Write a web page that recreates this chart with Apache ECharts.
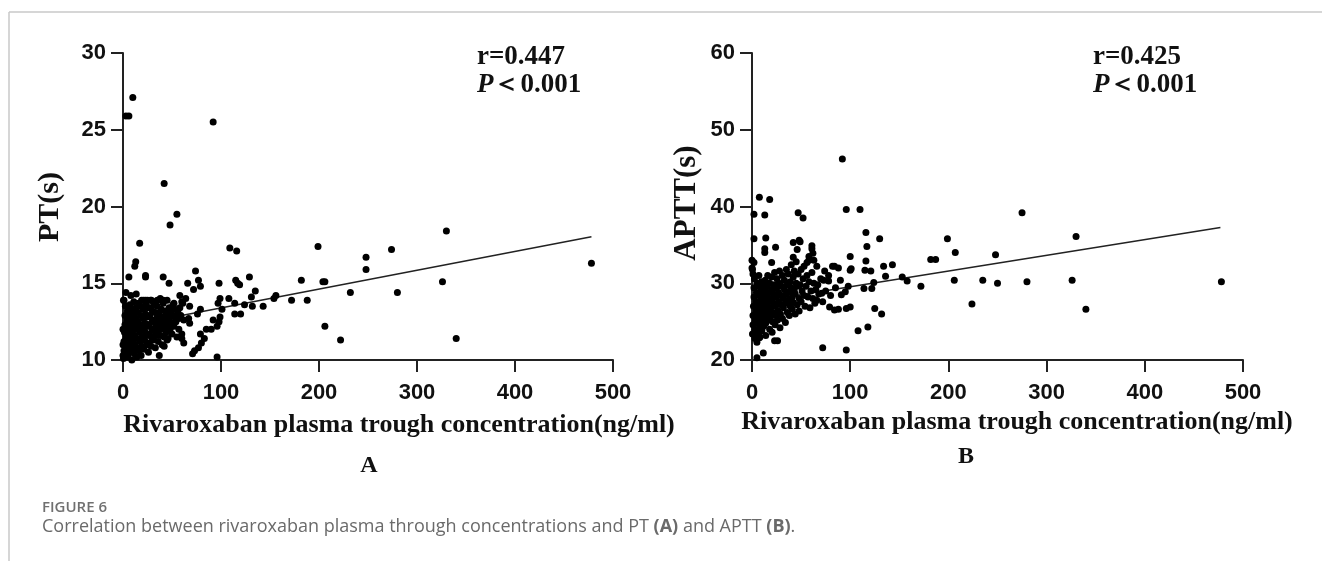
<!DOCTYPE html>
<html>
<head>
<meta charset="utf-8">
<script src="https://cdn.jsdelivr.net/npm/echarts/dist/echarts.min.js"></script>
<style>
  html, body { margin: 0; padding: 0; background: #fff; }
  #main { width: 1322px; height: 561px; }
</style>
</head>
<body>
<div id="main"></div>
<script>
var myChart = echarts.init(document.getElementById('main'));

// panel A: trough concentration (ng/ml) vs PT (s)
var ptPoints = [
  [10,27.1],[3,25.9],[6,25.9],[92,25.5],[42,21.5],[55,19.5],[48,18.8],[17,17.6],[109,17.3],[116,17.1],[199,17.4],
  [13,16.4],[12,16.1],[6,15.4],[23,15.5],[23,15.4],[41,15.4],[47,15.0],[74,15.8],[77,15.2],[79,14.8],[66,15.0],
  [72,14.6],[98,15.0],[115,15.2],[119,14.9],[117,15.0],[129,15.4],[182,15.2],[206,15.1],[135,14.5],[131,14.1],
  [156,14.2],[154,14.0],[172,13.9],[188,13.9],[143,13.5],[132,13.5],[124,13.6],[114,13.0],[120,13.0],[99,14.0],
  [97,13.7],[101,13.3],[108,14.0],[114,13.7],[206,12.2],[96,10.2],[90,12.0],[96,12.2],[98,12.5],[99,12.8],
  [92,12.6],[85,12.0],[79,11.7],[83,11.4],[80,11.1],[77,10.8],[73,10.6],[71,10.4],[60,11.4],[62,11.1],[60,11.7],
  [57,12.0],[67,12.7],[68,12.4],[76,13.0],[79,13.3],[68,13.5],[64,14.0],[61,13.7],[58,14.2],[52,13.7],[37,10.3],
  [42,10.9],[45,11.3],
  [232,14.4],[248,16.7],[248,15.9],[274,17.2],[280,14.4],[204,15.1],[222,11.3],[326,15.1],[330,18.4],[340,11.4],[478,16.3],
  [0.5,10.1],[1,10.6],[1,11.2],[1.5,11.8],[2,12.3],[2,12.9],[2.5,13.5],[1,13.9],[3,10.4],[3,11.0],[3.5,11.5],
  [4,12.0],[4,12.6],[4.5,13.2],[5,10.2],[5,10.8],[5.5,11.4],[6,11.9],[6,12.5],[6.5,13.0],[7,13.6],[7,10.5],
  [7.5,11.1],[8,11.7],[8,12.2],[8.5,12.8],[9,13.3],[9,10.0],[9.5,10.7],[10,11.3],[10,11.9],[10.5,12.4],[11,13.0],
  [11,13.8],[11.5,10.4],[12,11.0],[12,11.6],[12.5,12.1],[13,12.7],[13,13.4],[13.5,14.3],[14,10.2],[14,10.8],
  [14.5,11.4],[15,12.0],[15,12.5],[15.5,13.1],[16,13.7],[16.5,10.6],[17,11.2],[17,11.8],[17.5,12.3],[18,12.9],
  [18,13.5],[18.5,10.3],[19,10.9],[19.5,11.5],[20,12.1],[20,12.7],[20.5,13.3],[21,13.9],[21.5,10.7],[22,11.3],
  [22,11.9],[22.5,12.4],[23,13.0],[23.5,13.6],[24,11.0],[24,11.6],[24.5,12.2],[25,12.8],[25.5,13.4],[26,10.5],
  [26.5,11.1],[27,11.7],[27,12.3],[27.5,12.9],[28,13.9],[28.5,10.9],[29,11.5],[29.5,12.0],[30,12.6],[30,13.2],
  [31,11.3],[31,13.8],[32,11.9],[32,12.5],[33,13.1],[33,10.8],[34,11.6],[34,12.2],[35,12.8],[35,13.5],[36,11.2],
  [36,11.9],[37,12.4],[37,13.0],[38,11.6],[38,12.6],[39,13.3],[39,12.0],[40,11.0],[40,12.3],[41,12.8],[41,13.7],
  [42,11.5],[42,12.1],[43,12.6],[43,13.2],[44,11.8],[44,12.4],[45,13.0],[45,13.9],[46,12.2],[46,11.4],[47,12.7],
  [47,13.4],[48,12.0],[48,12.5],[49,13.1],[50,11.7],[50,12.4],[51,12.9],[51,13.6],[52,12.2],[53,12.8],[53,13.3],
  [54,12.5],[55,11.5],[56,13.1],[57,12.7],[58,13.4],[59,12.9],[60,13.8],[62,12.6],[0.5,13.9],[0,12.0],[0,11.0],
  [0,10.3],[3,14.4],[8,14.2],[19,13.9],[25,13.9],[28,13.4],[32,13.6],[38,14.0],[23,13.9],[29,13.9],[35,13.9],[41,13.9]
];
var ptFitX = [0, 478];
var ptFitY = [12.17, 18.03];

// panel B: trough concentration (ng/ml) vs APTT (s)
var apttPoints = [
  [92,46.2],[7.5,41.2],[18,40.9],[2,39.0],[13,38.9],[96,39.6],[110,39.6],[47,39.2],[52,38.5],[2,35.8],[14,35.9],
  [24,34.7],[13,34.5],[13,34.0],[20,32.7],[2,32.7],[100,33.5],[116,36.6],[117,34.8],[130,35.8],[116,32.9],
  [134,32.2],[143,32.4],[136,30.9],[124,30.1],[121,31.6],[115,31.7],[153,30.8],[158,30.3],[172,29.6],[182,33.1],
  [187,33.1],[199,35.8],[207,34.0],[206,30.4],[235,30.4],[224,27.3],[114,29.3],[122,29.3],[125,26.7],[132,26.0],
  [108,23.8],[118,24.3],[72,21.6],[96,21.3],[96,26.7],[100,26.9],[84,26.5],[79,26.9],[91,28.5],[95,28.9],[98,29.6],
  [100,31.7],[101,31.9],[88,32.0],[84,32.2],[82,32.2],[74,31.6],[73,30.4],[78,30.3],[67,29.8],[71,28.7],[66,27.8],
  [66,32.2],[63,33.0],[62,33.9],[61,34.5],[61,34.9],[58,33.5],[58,33.0],[56,32.7],[49,35.4],[48,35.6],[42,35.3],
  [46,34.4],[42,33.4],[23,22.5],[26,22.5],[11.5,20.9],[5,20.3],[8,23.0],[5,22.3],
  [248,33.7],[250,30.0],[275,39.2],[280,30.2],[326,30.4],[330,36.1],[340,26.6],[478,30.2],
  [0.5,23.4],[1,24.6],[1,25.8],[1.5,27.0],[2,28.2],[2,29.4],[2.5,30.6],[1,31.2],[3,22.8],[3,24.0],[3.5,25.2],
  [4,26.4],[4,27.6],[4.5,28.8],[5,30.0],[5,23.5],[5.5,24.8],[6,26.0],[6,27.2],[6.5,28.4],[7,29.6],[7,31.0],
  [7.5,22.9],[8,24.2],[8,25.4],[8.5,26.6],[9,27.8],[9,29.0],[9.5,30.2],[10,23.8],[10,25.0],[10.5,26.2],[11,27.4],
  [11,28.6],[11.5,29.8],[12,24.4],[12,25.6],[12.5,26.8],[13,28.0],[13,29.2],[13.5,30.4],[14,23.2],[14,24.8],
  [14.5,26.0],[15,27.2],[15,28.4],[15.5,29.6],[16,31.0],[16.5,25.2],[17,26.4],[17,27.6],[17.5,28.8],[18,30.0],
  [18,24.0],[18.5,25.6],[19,26.8],[19.5,28.0],[20,29.2],[20,30.8],[20.5,23.6],[21,25.0],[21.5,26.2],[22,27.4],
  [22,28.6],[22.5,29.8],[23,31.4],[23.5,24.6],[24,25.8],[24,27.0],[24.5,28.2],[25,29.4],[25.5,30.6],[26,25.2],
  [26.5,26.4],[27,27.6],[27,28.8],[27.5,30.0],[28,31.6],[28.5,24.2],[29,26.0],[29.5,27.2],[30,28.4],[30,29.6],
  [31,31.0],[31,25.4],[32,26.8],[32,28.0],[33,29.2],[33,30.4],[34,27.4],[34,24.9],[35,28.6],[35,31.8],[36,26.2],
  [36,29.8],[37,27.8],[37,31.2],[38,25.8],[38,28.9],[39,30.2],[39,27.0],[40,29.4],[40,32.4],[41,26.6],[41,28.2],
  [42,30.8],[42,27.5],[43,29.0],[43,31.6],[44,26.0],[44,28.6],[45,30.0],[45,32.8],[46,27.2],[46,29.6],[47,31.2],
  [48,28.0],[48,26.4],[49,29.8],[50,31.8],[50,27.6],[51,29.0],[52,30.6],[53,28.4],[53,32.2],[54,27.0],[55,29.6],
  [56,31.0],[57,28.2],[58,30.2],[59,26.8],[60,29.0],[61,31.4],[62,28.0],[63,30.0],[64,27.4],[65,29.2],[68,28.6],
  [70,30.6],[72,27.6],[75,29.0],[78,31.0],[80,28.4],[85,29.4],[88,26.6],[90,30.4],[0,33.0],[0,32.0],[0.5,31.8]
];
var apttFitX = [0, 477];
var apttFitY = [27.49, 37.25];

var xTicks = [0, 100, 200, 300, 400, 500];
var ptTicks = [10, 15, 20, 25, 30];
var apttTicks = [20, 30, 40, 50, 60];

var xName = 'Rivaroxaban plasma trough concentration(ng/ml)';
var caption = 'Correlation between rivaroxaban plasma through concentrations and PT ';

function pairs(xs, ys) {
  return xs.map(function (v, i) { return [v, ys[i]]; });
}

var axisLine = { show: true, lineStyle: { color: '#222', width: 2 } };
var axisTick = { show: true, length: 12, lineStyle: { color: '#222', width: 2 } };
var tickLabel = { fontFamily: 'Liberation Sans, Arial', fontWeight: 'bold', fontSize: 22, color: '#111' };

function xAxis(idx) {
  return {
    gridIndex: idx, type: 'value', min: xTicks[0], max: xTicks[xTicks.length - 1], interval: 100,
    axisLine: axisLine, axisTick: axisTick, splitLine: { show: false },
    axisLabel: Object.assign({ margin: 22 }, tickLabel)
  };
}
function yAxis(idx, ticks) {
  return {
    gridIndex: idx, type: 'value', min: ticks[0], max: ticks[ticks.length - 1], interval: ticks[1] - ticks[0],
    axisLine: axisLine, axisTick: axisTick, splitLine: { show: false },
    axisLabel: Object.assign({ margin: 17 }, tickLabel)
  };
}

var serif = 'bold 26px "Liberation Serif", "Times New Roman", serif';

function txt(x, y, text, font, align, extra) {
  var s = { text: text, font: font, fill: '#111', textAlign: align || 'center', textVerticalAlign: 'middle' };
  if (extra) Object.assign(s, extra);
  return { type: 'text', x: x, y: y, style: s, z: 10 };
}

var pRich = { i: { fontStyle: 'italic', fontWeight: 'bold', fontSize: 27, fontFamily: 'Liberation Serif', fill: '#111' },
              n: { fontWeight: 'bold', fontSize: 27, fontFamily: 'Liberation Serif', fill: '#111' } };

var option = {
  animation: false,
  backgroundColor: '#fff',
  grid: [
    { left: 123, top: 53, width: 490, height: 307 },
    { left: 752, top: 53, width: 491, height: 307 }
  ],
  xAxis: [xAxis(0), xAxis(1)],
  yAxis: [yAxis(0, ptTicks), yAxis(1, apttTicks)],
  series: [
    { type: 'scatter', xAxisIndex: 0, yAxisIndex: 0, data: ptPoints, symbolSize: 7,
      itemStyle: { color: '#000', opacity: 1 } },
    { type: 'line', xAxisIndex: 0, yAxisIndex: 0, data: pairs(ptFitX, ptFitY), symbol: 'none',
      lineStyle: { color: '#222', width: 1.5 }, z: 1 },
    { type: 'scatter', xAxisIndex: 1, yAxisIndex: 1, data: apttPoints, symbolSize: 7,
      itemStyle: { color: '#000', opacity: 1 } },
    { type: 'line', xAxisIndex: 1, yAxisIndex: 1, data: pairs(apttFitX, apttFitY), symbol: 'none',
      lineStyle: { color: '#222', width: 1.5 }, z: 1 }
  ],
  graphic: [
    { type: 'line', shape: { x1: 9, y1: 12, x2: 1322, y2: 12 }, style: { stroke: '#c8c8c8', lineWidth: 1.5 } },
    { type: 'line', shape: { x1: 9, y1: 12, x2: 9, y2: 561 }, style: { stroke: '#c8c8c8', lineWidth: 1.5 } },
    txt(50, 207, 'PT(s)', 'bold 30px "Liberation Serif", serif', 'center', null),
    txt(687, 203, 'APTT(s)', 'bold 31px "Liberation Serif", serif', 'center', null),
    txt(399, 425, xName, serif),
    txt(1017, 422, xName, serif),
    txt(369, 466, 'A', 'bold 24px "Liberation Serif", serif'),
    txt(966, 457, 'B', 'bold 24px "Liberation Serif", serif'),
    txt(477, 57, 'r=0.447', 'bold 27px "Liberation Serif", serif', 'left'),
    txt(477, 85, '{i|P}{n|＜0.001}', 'bold 27px "Liberation Serif", serif', 'left', { rich: pRich }),
    txt(1093, 57, 'r=0.425', 'bold 27px "Liberation Serif", serif', 'left'),
    txt(1093, 85, '{i|P}{n|＜0.001}', 'bold 27px "Liberation Serif", serif', 'left', { rich: pRich }),
    txt(42, 508, 'FIGURE 6', '600 15px "Open Sans", "Noto Sans", sans-serif', 'left', { fill: '#707070' }),
    txt(42, 527, '{t|' + caption + '}{b|(A)}{t| and APTT }{b|(B)}{t|.}',
        '18px "Open Sans", "Noto Sans", sans-serif', 'left', {
          fill: '#6a6a6a',
          rich: {
            t: { fontSize: 18, fontFamily: 'Open Sans', fill: '#6a6a6a' },
            b: { fontSize: 18, fontFamily: 'Open Sans', fontWeight: 'bold', fill: '#6a6a6a' }
          }
        })
  ]
};

// rotate y axis titles
option.graphic[2].rotation = Math.PI / 2;
option.graphic[3].rotation = Math.PI / 2;

myChart.setOption(option);
</script>
</body>
</html>
